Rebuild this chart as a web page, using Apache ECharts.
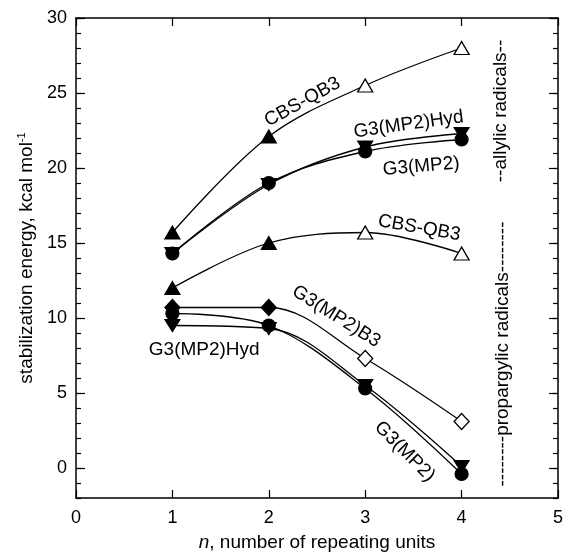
<!DOCTYPE html>
<html>
<head>
<meta charset="utf-8">
<script src="https://cdn.jsdelivr.net/npm/echarts@6/dist/echarts.min.js"></script>
<style>
  html, body { margin: 0; padding: 0; background: #fff; }
  #chart { width: 563px; height: 552px; }
</style>
</head>
<body>
<div id="chart"></div>
<script>
// n, number of repeating units
const units = [1, 2, 3, 4]

// allylic radicals
const allylCbs = [15.7, 22.1, 25.5, 28.0]
const allylHyd = [14.3, 18.9, 21.4, 22.3]
const allylMp2 = [14.3, 19.0, 21.1, 21.9]

// propargylic radicals
const propCbs = [12.0, 15.0, 15.7, 14.3]
const propB3 = [10.7, 10.7, 7.3, 3.1]
const propMp2 = [10.3, 9.5, 5.3, -0.4]
const propHyd = [9.5, 9.3, 5.5, 0.1]

const yLabels = [0, 5, 10, 15, 20, 25, 30]

const FONT = 'Liberation Sans, Arial, Helvetica, sans-serif'
const INK = '#000'

// open symbols from n = 3 on for the CBS-QB3 and B3 curves
function makeSeries (name, values, symbol, opts) {
  opts = opts || {}
  return {
    name: name,
    type: 'line',
    smooth: 0.35,
    symbol: symbol,
    symbolSize: opts.size || 12,
    symbolRotate: opts.rotate || 0,
    lineStyle: { color: INK, width: 1.3 },
    itemStyle: { color: INK, borderColor: INK, borderWidth: 1.2 },
    z: 3,
    data: values.map((v, i) => {
      let item = { value: [units[i], v] }
      if (opts.openFrom && units[i] >= opts.openFrom) {
        item.itemStyle = { color: '#fff', borderColor: INK, borderWidth: 1.3 }
      }
      return item
    })
  }
}

let chart = echarts.init(document.getElementById('chart'))

let axisLine = { show: true, onZero: false, lineStyle: { color: INK, width: 1.5 } }
let noLine = { show: false, onZero: false }
let tickStyle = { color: INK, width: 1.2 }

let option = {
  animation: false,
  grid: { left: 76, right: 5, top: 18, bottom: 54, outerBoundsMode: 'none', containLabel: false },
  xAxis: [
    {
      type: 'value',
      position: 'bottom',
      min: 0,
      max: 5,
      interval: 1,
      axisLine: axisLine,
      axisTick: { inside: true, length: 8, lineStyle: tickStyle },
      axisLabel: { color: INK, fontSize: 18, fontFamily: FONT, margin: 11 },
      splitLine: { show: false },
      name: '{i|n}, number of repeating units',
      nameLocation: 'middle',
      nameGap: 35,
      nameTextStyle: {
        color: INK,
        fontSize: 19,
        fontFamily: FONT,
        rich: { i: { fontStyle: 'italic', fontSize: 19, fontFamily: FONT, color: INK } }
      }
    },
    {
      type: 'value',
      position: 'top',
      min: 0,
      max: 5,
      interval: 1,
      axisLine: axisLine,
      axisTick: { inside: true, length: 8, lineStyle: tickStyle },
      axisLabel: { show: false },
      splitLine: { show: false }
    }
  ],
  yAxis: [
    {
      type: 'value',
      position: 'left',
      min: -2,
      max: 30,
      interval: 1,
      axisLine: axisLine,
      axisTick: { inside: true, length: 5, lineStyle: tickStyle },
      axisLabel: {
        color: INK,
        fontSize: 18,
        fontFamily: FONT,
        margin: 9,
        customValues: yLabels
      },
      splitLine: { show: false },
      name: 'stabilization energy, kcal mol{sup|-1}',
      nameLocation: 'middle',
      nameGap: 34,
      nameTextStyle: {
        color: INK,
        fontSize: 19,
        fontFamily: FONT,
        rich: {
          sup: { fontSize: 11, fontFamily: FONT, color: INK, padding: [0, 0, 10, 0] }
        }
      }
    },
    {
      type: 'value',
      position: 'left',
      min: -2,
      max: 30,
      axisLine: noLine,
      axisTick: { inside: true, length: 9, customValues: yLabels, lineStyle: tickStyle },
      axisLabel: { show: false },
      splitLine: { show: false }
    },
    {
      type: 'value',
      position: 'right',
      min: -2,
      max: 30,
      interval: 1,
      axisLine: axisLine,
      axisTick: { inside: true, length: 5, lineStyle: tickStyle },
      axisLabel: { show: false },
      splitLine: { show: false }
    },
    {
      type: 'value',
      position: 'right',
      min: -2,
      max: 30,
      axisLine: noLine,
      axisTick: { inside: true, length: 9, customValues: yLabels, lineStyle: tickStyle },
      axisLabel: { show: false },
      splitLine: { show: false }
    }
  ],
  series: [
    makeSeries('CBS-QB3 allylic', allylCbs, 'triangle', { openFrom: 3, size: [15, 13] }),
    makeSeries('G3(MP2)Hyd allylic', allylHyd, 'triangle', { rotate: 180, size: [15, 12] }),
    makeSeries('G3(MP2) allylic', allylMp2, 'circle', { size: 13 }),
    makeSeries('CBS-QB3 propargylic', propCbs, 'triangle', { openFrom: 3, size: [15, 13] }),
    makeSeries('G3(MP2)B3 propargylic', propB3, 'diamond', { openFrom: 3, size: [15, 16] }),
    makeSeries('G3(MP2) propargylic', propMp2, 'circle', { size: 13 }),
    makeSeries('G3(MP2)Hyd propargylic', propHyd, 'triangle', { rotate: 180, size: [15, 12] })
  ]
}

chart.setOption(option)

// 注释文字: [text, n, energy, rotation in degrees (counter-clockwise)]
const notes = [
  ['CBS-QB3', 2.35, 24.4, 29],
  ['G3(MP2)Hyd', 3.45, 22.9, 8],
  ['G3(MP2)', 3.58, 20.1, 5],
  ['CBS-QB3', 3.56, 16.0, -10],
  ['G3(MP2)B3', 2.7, 10.1, -32],
  ['G3(MP2)Hyd', 1.33, 7.9, 0],
  ['G3(MP2)', 3.41, 1.1, -45],
  ['--allylic radicals--', 4.41, 23.8, 90],
  ['--------propargylic radicals--------', 4.43, 7.6, 90]
]

let graphic = notes.map(n => {
  let p = chart.convertToPixel({ gridIndex: 0 }, [n[1], n[2]])
  return {
    type: 'text',
    x: p[0],
    y: p[1],
    rotation: n[3] * Math.PI / 180,
    z: 10,
    style: {
      text: n[0],
      fill: INK,
      font: '19px ' + FONT,
      align: 'center',
      verticalAlign: 'middle'
    }
  }
})

chart.setOption({ graphic: graphic })

window.addEventListener('resize', () => {
  chart.resize()
})
</script>
</body>
</html>
